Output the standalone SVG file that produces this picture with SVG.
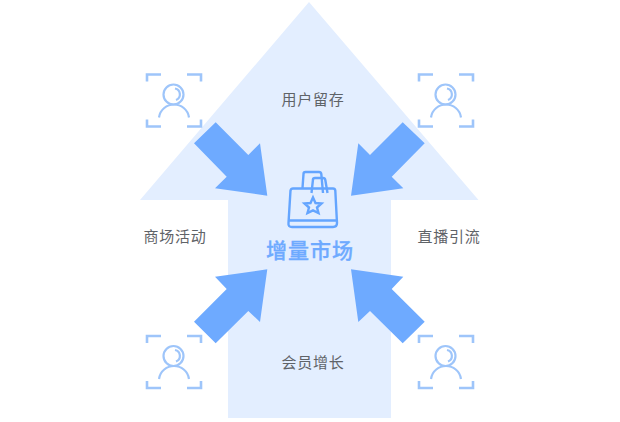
<svg xmlns="http://www.w3.org/2000/svg" width="620" height="422" viewBox="0 0 620 422">
<style>
.t{font-family:"Noto Sans CJK SC","Liberation Sans",sans-serif;font-size:15px;letter-spacing:.7px;fill:#5f6368;text-anchor:middle}
.f{fill:none;stroke:#9ec5fa;stroke-width:2.6}
.p{fill:none;stroke:#9ec5fa;stroke-width:2.2}
.a{fill:#6eaaff}
.b{fill:none;stroke:#64a5ff;stroke-width:2.4}
</style>
<defs>
<g id="person">
<path class="f" d="M-27-19V-26H-13M13-26H27V-19M-27 19V26H-13M13 26H27V19"/>
<circle class="p" cx="-.5" cy="-6" r="10"/>
<path class="p" d="M1-12A6 6 0 0 1 2-.5"/>
<path class="p" d="M-15 17C-14 9-7 4 0 4S14 9 15 17"/>
</g>
</defs>
<path id="bg" fill="#e3eeff" d="M309 2L478.500 200H391V418H228V200H140Z"/>
<g id="connectors">
<path id="a1" class="a" d="M267.300 195.700L215 188.300L226.700 176.700L194 143.300L215.700 122.300L248.300 155L260 143.300Z"/>
<path id="a2" class="a" d="M351 195.700L403.300 188.300L391.700 176.700L424.700 143.300L402.700 122.300L370 155L358.300 143.300Z"/>
<path id="a3" class="a" d="M267.300 269.300L215 276.700L226.700 289L194 321.700L215.700 343.300L248.300 311L260 322Z"/>
<path id="a4" class="a" d="M351 269.300L403.300 276.700L391.700 289L424.700 321.700L402.700 343.300L370 311L358.300 322Z"/>
</g>
<g id="person-tl"><use href="#person" x="174" y="100.500"/></g>
<g id="person-tr"><use href="#person" x="446" y="100.500"/></g>
<g id="person-bl"><use href="#person" x="174" y="362"/></g>
<g id="person-br"><use href="#person" x="446" y="362"/></g>
<g id="center">
<path class="b" d="M293 188.500H333Q335 188.500 335.300 190.500L337 223Q337 227 333 227H292Q288 227 288.500 223L290.500 190.500Q291 188.500 293 188.500ZM288.500 220.500H337"/>
<path class="b" d="M302.500 188L303.500 174Q303.500 172 305.500 172H319Q321 172 321.300 174L323 193M311.500 193L313 179.500Q313 178 315 178H323Q325 178 325.300 180L327.500 193"/>
<path class="b" d="M313 197.500L315.500 203L321.500 203.500L317 207.500L318.500 213L313 210.300L307.500 213L309 207.500L304.500 203.500L310.500 203Z"/>
<text x="310" y="258" font-family="'Noto Sans CJK SC','Liberation Sans',sans-serif" font-size="21" font-weight="500" letter-spacing="1" fill="#6eaaff" stroke="#6eaaff" stroke-width=".3" text-anchor="middle">增量市场</text>
</g>
<g id="labels">
<text class="t" x="313" y="105">用户留存</text>
<text class="t" x="175" y="242">商场活动</text>
<text class="t" x="449" y="242">直播引流</text>
<text class="t" x="313" y="368">会员增长</text>
</g>
</svg>
